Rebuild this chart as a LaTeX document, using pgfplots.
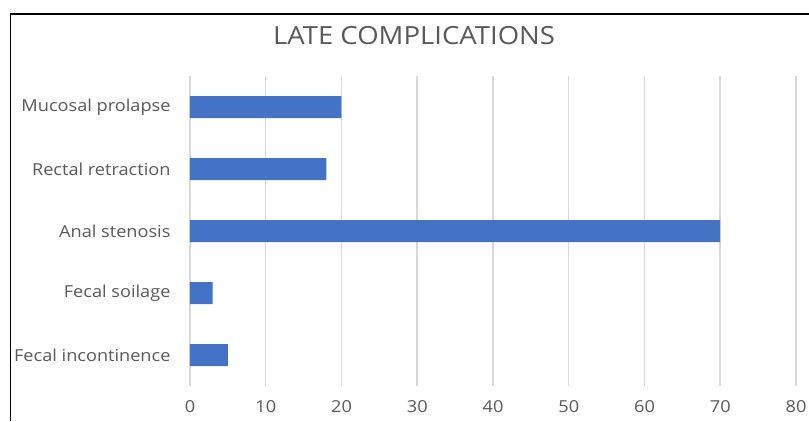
\documentclass[border=0pt]{standalone}
\usepackage{pgfplots}
\pgfplotsset{compat=1.18}
\usepackage{fontspec}
\setmainfont{Open Sans}[FakeStretch=1.1]
\definecolor{barblue}{HTML}{4472C4}
\definecolor{txtgray}{HTML}{595959}
\definecolor{gridgray}{HTML}{D9D9D9}
\begin{document}
\begin{tikzpicture}[x=1pt,y=1pt]
\useasboundingbox (0,0) rectangle (809,421);
\draw[line width=1.5pt] (10.5,0) -- (10.5,407) -- (809,407);
\node[text=txtgray,font=\fontsize{25}{29}\selectfont] at (414,385) {LATE COMPLICATIONS};
\begin{axis}[
  at={(190pt,35pt)}, anchor=south west,
  scale only axis, width=606pt, height=310pt,
  xbar, bar width=22pt,
  xmin=0, xmax=80, ymin=0.5, ymax=5.5,
  xtick={0,10,...,80},
  ytick={1,2,3,4,5},
  yticklabels={Fecal incontinence,Fecal soilage,Anal stenosis,Rectal retraction,Mucosal prolapse\ },
  axis line style={draw=none},
  major tick length=0pt,
  xmajorgrids, grid style={gridgray,line width=1.5pt},
  ymajorgrids=false,
  tick label style={text=txtgray,font=\fontsize{16.5}{19}\selectfont},
  /pgf/number format/assume math mode=true,
  xticklabel style={yshift=-11pt},
  yticklabel style={xshift=-16pt},
  clip=false,
]
\addplot[fill=barblue,draw=none] coordinates {(5,1) (3,2) (70,3) (18,4) (20,5)};
\end{axis}
\end{tikzpicture}
\end{document}
